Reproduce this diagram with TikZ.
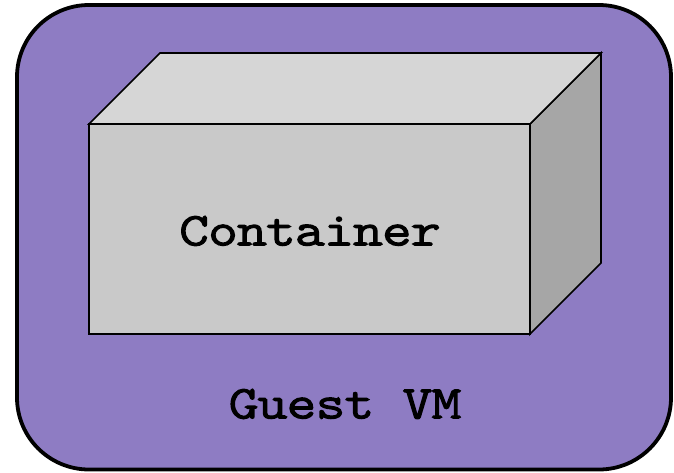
\documentclass[tikz,border=0pt]{standalone}
\usepackage{fontspec}
\setmonofont[BoldFont={Latin Modern Mono Light},BoldFeatures={FakeBold=4,FakeStretch=1.2}]{Latin Modern Mono}
\definecolor{vm}{HTML}{8E7CC3}
\begin{document}
\begin{tikzpicture}[x=1pt,y=-1pt,
 edge/.style={draw=black,line width=1.7pt,line join=miter},
 lab/.style={font=\ttfamily\bfseries\fontsize{46}{54}\selectfont,text=black,inner sep=0pt}]
\useasboundingbox (0,0) rectangle (674,472);
\fill[white] (0,0) rectangle (674,472);
\draw[draw=black,line width=3.8pt,fill=vm,rounded corners=72pt] (17,5) rectangle (671,469.5);
\coordinate (a) at (89,124); \coordinate (b) at (530,124); \coordinate (c) at (530,334); \coordinate (d) at (89,334);
\coordinate (e) at (160,53); \coordinate (f) at (601,53); \coordinate (g) at (601,263);
\draw[edge,fill=black!35!white] (b)--(f)--(g)--(c)--cycle;
\draw[edge,fill=black!16!white] (a)--(e)--(f)--(b)--cycle;
\draw[edge,fill=black!21!white] (a)--(b)--(c)--(d)--cycle;
\node[lab] (cont) at (310,231) {Container};
\node[lab] (vmtext) at (345,404) {Guest VM};
\end{tikzpicture}
\end{document}
